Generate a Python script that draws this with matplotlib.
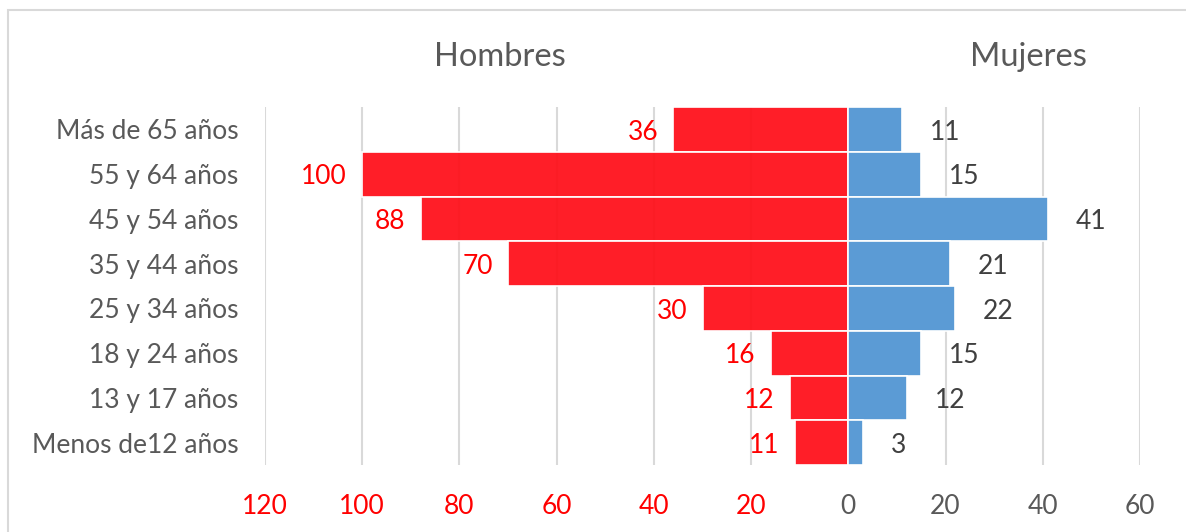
import matplotlib.pyplot as plt
from matplotlib.patches import Rectangle

categories = ['Más de 65 años', '55 y 64 años', '45 y 54 años', '35 y 44 años',
              '25 y 34 años', '18 y 24 años', '13 y 17 años', 'Menos de12 años']
hombres = [36, 100, 88, 70, 30, 16, 12, 11]
mujeres = [11, 15, 41, 21, 22, 15, 12, 3]
xticks = [-120, -100, -80, -60, -40, -20, 0, 20, 40, 60]

# red is slightly see-through in the original, grid shows faintly
RED = (1.0, 0.05, 0.09, 0.93)
BLUE = '#5B9BD5'
GRAY = '#595959'
FONT = 'Lato'

plt.rcParams['font.family'] = [FONT, 'DejaVu Sans']

W, H = 1186, 532
fig = plt.figure(figsize=(W / 100, H / 100), dpi=100)
ax = fig.add_axes([265 / W, 1 - 465 / H, (1140 - 265) / W, (465 - 107) / H])

ypos = list(range(len(categories)))[::-1]
ax.barh(ypos, [-v for v in hombres], height=1.0, color=RED, edgecolor='white', linewidth=1.2, zorder=2)
ax.barh(ypos, mujeres, height=1.0, color=BLUE, edgecolor='white', linewidth=1.2, zorder=2)

for y, v in zip(ypos, hombres):
    ax.annotate(str(v), (-v, y), xytext=(-11, -2), textcoords='offset points',
                ha='right', va='center', color='red', fontsize=19)
for y, v in zip(ypos, mujeres):
    ax.annotate(str(v), (v, y), xytext=(20, -2), textcoords='offset points',
                ha='left', va='center', color='#404040', fontsize=19)

ax.set_xlim(-120, 60)
ax.set_ylim(-0.5, len(categories) - 0.5)
ax.set_xticks(xticks)
ax.set_xticklabels([str(abs(t)) for t in xticks], fontsize=19)
for lbl, t in zip(ax.get_xticklabels(), xticks):
    lbl.set_color('red' if t < 0 else GRAY)
ax.set_yticks(ypos)
ax.set_yticklabels(categories, fontsize=19, color=GRAY)
ax.tick_params(axis='x', length=0, pad=21)
ax.tick_params(axis='y', length=0, pad=19)
ax.grid(axis='x', color='#D9D9D9', linewidth=1.5, zorder=0)
ax.set_axisbelow(True)
for s in ax.spines.values():
    s.set_visible(False)

fig.text(500 / W, 1 - 57 / H, 'Hombres', ha='center', va='center', fontsize=23.5, color=GRAY)
fig.text(1028 / W, 1 - 57 / H, 'Mujeres', ha='center', va='center', fontsize=23.5, color=GRAY)

fig.add_artist(Rectangle((8 / W, -0.2), 1.5, 1.2 - 10 / H, transform=fig.transFigure,
                         fill=False, edgecolor='#D9D9D9', linewidth=1.5))

fig.savefig('out.png', dpi=100)
